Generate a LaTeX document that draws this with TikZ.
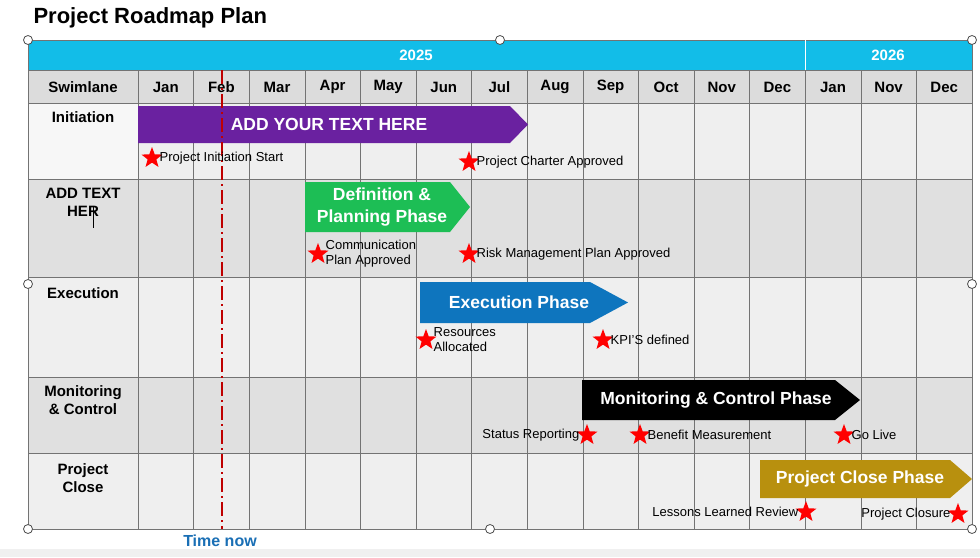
\documentclass[tikz,border=0pt]{standalone}
\usepackage{fontspec}
\setmainfont{Liberation Sans}
\usetikzlibrary{shapes.geometric,shapes.symbols}
\definecolor{cyanbar}{HTML}{12BDE8}
\definecolor{rowA}{HTML}{EFEFEF}
\definecolor{rowB}{HTML}{E0E0E0}
\definecolor{hdr}{HTML}{DCDCDC}
\definecolor{purp}{HTML}{6A21A0}
\definecolor{grn}{HTML}{1DBE55}
\definecolor{blu}{HTML}{0E75BE}
\definecolor{gold}{HTML}{B8900E}
\definecolor{tnow}{HTML}{1A6FB5}
\tikzset{
 hd/.style={font=\fontsize{15}{15}\selectfont\bfseries},
 lane/.style={font=\fontsize{15}{18}\selectfont\bfseries,align=center,anchor=north},
 ms/.style={star,star points=5,star point ratio=2.4,fill=red,draw=none,minimum size=22pt,inner sep=0pt},
 lbl/.style={font=\fontsize{13}{15}\selectfont,align=left,inner sep=1pt},
 ph/.style={font=\fontsize{17.5}{21}\selectfont\bfseries,text=white,align=center},
 hnd/.style={circle,draw=black!70,fill=white,line width=0.8pt,minimum size=9pt,inner sep=0pt}
}
\begin{document}
\begin{tikzpicture}[x=1pt,y=-1pt]
\useasboundingbox (0,0) rectangle (980,557);
\fill[white] (0,0) rectangle (980,557);
\fill[black!6] (0,549) rectangle (980,557);
\node[anchor=west,font=\fontsize{22}{22}\selectfont\bfseries] (title) at (30,18) {Project Roadmap Plan};
% rows
\fill[cyanbar] (28,40) rectangle (972,70);
\fill[hdr] (28,70) rectangle (972,103);
\fill[rowA] (28,103) rectangle (972,179);
\fill[rowB] (28,179) rectangle (972,277);
\fill[rowA] (28,277) rectangle (972,377);
\fill[rowB] (28,377) rectangle (972,453);
\fill[rowA] (28,453) rectangle (972,529);
\fill[black!3] (28,103) rectangle (138,179);
% grid
\foreach \y in {70,103,179,277,377,453} \draw[black!55] (28,\y) -- (972,\y);
\draw[black!55] (28,40) rectangle (972,529);
\draw[black!55] (138,70) -- (138,529);
\foreach \i in {1,...,14} \draw[black!55] ({138+55.6*\i},70) -- ({138+55.6*\i},529);
\draw[white,line width=1pt] (805,40) -- (805,70);
\node[hd,text=white] (y25) at (416,55) {2025};
\node[hd,text=white] (y26) at (888,55) {2026};
\node[hd] (sw) at (83,87) {Swimlane};
\foreach \m [count=\i from 0] in {Jan,Feb,Mar,Apr,May,Jun,Jul,Aug,Sep,Oct,Nov,Dec,Jan,Nov,Dec}
  \node[hd] (m\i) at ({165.8+55.6*\i},87) {\m};
\node[lane] (l1) at (83,108) {Initiation};
\node[lane] (l2) at (83,185) {ADD TEXT\\HER};
\draw[black,line width=1pt] (93,206) -- (93,228);
\node[lane] (l3) at (83,284) {Execution};
\node[lane] (l4) at (83,382) {Monitoring\\\& Control};
\node[lane] (l5) at (83,460) {Project\\Close};
% phase arrows
\fill[purp] (138,106) -- (510,106) -- (528,124.5) -- (510,143) -- (138,143) -- cycle;
\node[ph] (p1) at (329,124.5) {ADD YOUR TEXT HERE};
\fill[grn] (305,182) -- (450,182) -- (470,207) -- (450,232) -- (305,232) -- cycle;
\node[ph,font=\fontsize{17.5}{22}\selectfont\bfseries] (p2) at (382,207) {Definition \&\\Planning Phase};
\fill[blu] (420,282) -- (590,282) -- (628,302.5) -- (590,323) -- (420,323) -- cycle;
\node[ph] (p3) at (519,302.5) {Execution Phase};
\fill[black] (582,380) -- (835,380) -- (860,400) -- (835,420) -- (582,420) -- cycle;
\node[ph] (p4) at (716,400) {Monitoring \& Control Phase};
\fill[gold] (760,460) -- (950,460) -- (972,479) -- (950,498) -- (760,498) -- cycle;
\node[ph] (p5) at (860,479) {Project Close Phase};
% time now
\draw[red!75!black,line width=1.6pt,dash pattern=on 14pt off 4pt on 2pt off 4pt] (222,70) -- (222,529);
\node[font=\fontsize{16}{16}\selectfont\bfseries,text=tnow] (tn) at (220,541) {Time now};
% milestones
\node[ms] (s1) at (152,158) {}; \node[lbl,anchor=west] at (s1.east) {Project Initiation Start};
\node[ms] (s2) at (469,162) {}; \node[lbl,anchor=west] at (s2.east) {Project Charter Approved};
\node[ms] (s3) at (318,254) {}; \node[lbl,anchor=west] at (s3.east) {Communication\\Plan Approved};
\node[ms] (s4) at (469,254) {}; \node[lbl,anchor=west] at (s4.east) {Risk Management Plan Approved};
\node[ms] (s5) at (426,340) {}; \node[lbl,anchor=west] at (s5.east) {Resources\\Allocated};
\node[ms] (s6) at (603,340) {}; \node[lbl,anchor=west] at (s6.east) {KPI'S defined};
\node[ms] (s7) at (587,435) {}; \node[lbl,anchor=east] at (s7.west) {Status Reporting};
\node[ms] (s8) at (640,435) {}; \node[lbl,anchor=west] at (s8.east) {Benefit Measurement};
\node[ms] (s9) at (844,435) {}; \node[lbl,anchor=west] at (s9.east) {Go Live};
\node[ms] (s10) at (806,512) {}; \node[lbl,anchor=east] at (s10.west) {Lessons Learned Review};
\node[ms] (s11) at (958,514) {}; \node[lbl,anchor=east] at (s11.west) {Project Closure};
% handles
\foreach \p [count=\k] in {(28,40),(500,40),(972,40),(28,284),(972,284),(28,529),(490,529),(972,529)}
  \node[hnd] (h\k) at \p {};
\end{tikzpicture}
\end{document}
